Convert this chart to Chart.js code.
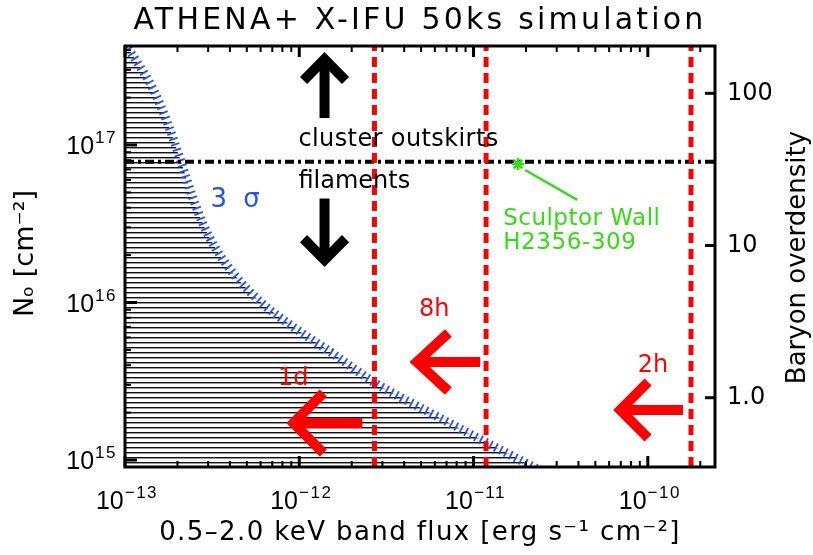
<!DOCTYPE html>
<html><head><meta charset="utf-8">
<script src="https://cdn.jsdelivr.net/npm/chart.js@4.4.1/dist/chart.umd.min.js"></script>
<style>html,body{margin:0;padding:0;background:#fff;}canvas{display:block}</style>
</head><body>
<canvas id="chart" width="813" height="555"></canvas>
<script>
// ---------------- data ----------------
const fluxLimit = [1.00e-13, 1.18e-13, 1.44e-13, 1.77e-13, 2.08e-13, 2.44e-13, 2.82e-13, 3.30e-13,
                   4.31e-13, 5.98e-13, 8.89e-13, 1.51e-12, 2.73e-12, 5.65e-12, 1.17e-11, 2.38e-11];
const columnLimit = [4.38e17, 3.32e17, 2.30e17, 1.34e17, 8.03e16, 4.68e16, 3.10e16, 2.22e16,
                     1.47e16, 1.01e16, 7.20e15, 4.85e15, 3.08e15, 1.99e15, 1.30e15, 8.65e14];
const exposureFlux = [2.70e-12, 1.18e-11, 1.77e-10];
const exposureNames = ['1d', '8h', '2h'];
const boundaryColumn = 7.84e16;
const sculptorFlux = [1.80e-11];
const sculptorColumn = [7.57e16];
const fluxRange = [1e-13, 2.43e-10];
const columnRange = [9.03e14, 4.25e17];
const overdensityRange = [0.3505, 204.6];
const fluxTicks = [1e-13, 1e-12, 1e-11, 1e-10];
const fluxTickExponents = ['−13', '−12', '−11', '−10'];
const columnTicks = [1e15, 1e16, 1e17];
const columnTickExponents = ['15', '16', '17'];
const overdensityTicks = [1, 10, 100];
const overdensityTickLabels = ['1.0', '10', '100'];

// ---------------- annotation placement (log10 data units) ----------------
const RED = '#ff0000', BLUE = '#2050ff', GREEN = '#33dd11';
const arrowsCfg = [
  {from: [-11.855, 17.171], to: [-11.855, 17.600], color: '#000', head: 30, spread: 21},
  {from: [-11.855, 16.660], to: [-11.855, 16.215], color: '#000', head: 30, spread: 21},
  {from: [-10.962, 15.622], to: [-11.374, 15.622], color: RED, head: 40, spread: 29},
  {from: [-11.638, 15.235], to: [-12.080, 15.235], color: RED, head: 38, spread: 30},
  {from: [-9.798, 15.317], to: [-10.205, 15.317], color: RED, head: 36, spread: 28}
];
const labelsCfg = [
  {text: 'cluster outskirts', at: [-12.005, 17.032], color: '#000', size: 24, spacing: 0.4},
  {text: 'filaments', at: [-12.005, 16.765], color: '#000', size: 24},
  {text: '3 σ', at: [-12.510, 16.651], color: BLUE, size: 26, spacing: 4},
  {text: 'Sculptor Wall', at: [-10.830, 16.530], color: GREEN, size: 23, spacing: 0.5},
  {text: 'H2356-309', at: [-10.830, 16.378], color: GREEN, size: 23, spacing: 0.6},
  {text: exposureNames[1], at: [-11.225, 15.952], color: RED, size: 24, align: 'center'},
  {text: exposureNames[0], at: [-12.034, 15.514], color: RED, size: 24, align: 'center'},
  {text: exposureNames[2], at: [-9.970, 15.597], color: RED, size: 24, align: 'center'}
];
const leaderCfg = {from: [-10.704, 16.841], to: [-10.405, 16.651]};

const FONT = '"DejaVu Sans", "Liberation Sans", sans-serif';
const TICKFONT = '"Liberation Sans", "DejaVu Sans", sans-serif';
const P = (e) => Math.pow(10, e);

// hatch pattern for the excluded region
function makeHatch() {
  const c = document.createElement('canvas');
  c.width = 4; c.height = 5;
  const g = c.getContext('2d');
  g.fillStyle = '#111'; g.fillRect(0, 2, 4, 1);
  g.fillStyle = '#9a9a9a'; g.fillRect(0, 3, 4, 1);
  return document.getElementById('chart').getContext('2d').createPattern(c, 'repeat');
}

function txt(ctx, s, x, y, o) {
  ctx.save();
  ctx.font = (o.weight || 'normal') + ' ' + o.size + 'px ' + (o.family || FONT);
  ctx.fillStyle = o.color || '#000';
  ctx.textAlign = o.align || 'left';
  ctx.textBaseline = o.baseline || 'middle';
  if ('letterSpacing' in ctx) ctx.letterSpacing = (o.spacing || 0) + 'px';
  ctx.translate(x, y);
  if (o.rotate) ctx.rotate(o.rotate);
  ctx.fillText(s, 0, 0);
  ctx.restore();
}

// power-of-ten tick label: "10" with a raised exponent
function powLabel(ctx, exp, x, baseY, align) {
  ctx.save();
  if ('letterSpacing' in ctx) ctx.letterSpacing = '0px';
  ctx.font = '25px ' + TICKFONT;
  const wb = ctx.measureText('10').width;
  ctx.font = '17px ' + TICKFONT;
  if ('letterSpacing' in ctx) ctx.letterSpacing = '1.5px';
  const we = ctx.measureText(exp).width;
  const total = wb + 1 + we;
  let x0 = align === 'right' ? x - total : x - total / 2;
  ctx.fillStyle = '#000'; ctx.textAlign = 'left'; ctx.textBaseline = 'alphabetic';
  if ('letterSpacing' in ctx) ctx.letterSpacing = '0px';
  ctx.font = '25px ' + TICKFONT;
  ctx.fillText('10', x0, baseY);
  if ('letterSpacing' in ctx) ctx.letterSpacing = '1.5px';
  ctx.font = '17px ' + TICKFONT;
  ctx.fillText(exp, x0 + wb + 1, baseY - 11);
  ctx.restore();
}

function arrow(ctx, x0, y0, x1, y1, head, spread, color, lw) {
  const ang = Math.atan2(y1 - y0, x1 - x0);
  const c = Math.cos(ang), s = Math.sin(ang);
  const half = Math.atan2(spread, head);
  const inset = (lw / 2) / Math.sin(half);
  const tx = x1 - c * inset, ty = y1 - s * inset;
  ctx.save();
  ctx.strokeStyle = color; ctx.lineWidth = lw; ctx.lineCap = 'butt'; ctx.lineJoin = 'miter'; ctx.miterLimit = 10;
  ctx.beginPath(); ctx.moveTo(x0, y0); ctx.lineTo(tx - c * 2, ty - s * 2); ctx.stroke();
  const bx = tx - c * (head - inset), by = ty - s * (head - inset);
  const px = -s * spread, py = c * spread;
  ctx.beginPath(); ctx.moveTo(bx + px, by + py); ctx.lineTo(tx, ty); ctx.lineTo(bx - px, by - py); ctx.stroke();
  ctx.restore();
}

const decorPlugin = {
  id: 'decor',
  afterDraw(chart) {
    const ctx = chart.ctx, a = chart.chartArea;
    const sx = chart.scales.x, sy = chart.scales.y, sy2 = chart.scales.y2;
    const X = (e) => sx.getPixelForValue(P(e)), Y = (e) => sy.getPixelForValue(P(e));
    ctx.save();
    // tick marks (inside)
    ctx.strokeStyle = '#000';
    const seg = (x0, y0, x1, y1, w) => { ctx.lineWidth = w; ctx.beginPath(); ctx.moveTo(x0, y0); ctx.lineTo(x1, y1); ctx.stroke(); };
    for (let e = -14; e <= -9; e++) for (let m = 1; m <= 9; m++) {
      const v = m * P(e);
      if (v < fluxRange[0] * 0.999 || v > fluxRange[1]) continue;
      const px = sx.getPixelForValue(v), major = m === 1;
      seg(px, a.bottom, px, a.bottom - (major ? 11 : 6), major ? 3 : 2);
      seg(px, a.top, px, a.top + (major ? 11 : 6), major ? 3 : 2);
    }
    for (let e = 14; e <= 17; e++) for (let m = 1; m <= 9; m++) {
      const v = m * P(e);
      if (v < columnRange[0] || v > columnRange[1]) continue;
      const py = sy.getPixelForValue(v), major = m === 1;
      seg(a.left, py, a.left + (major ? 12 : 6), py, major ? 3 : 2);
    }
    overdensityTicks.forEach(v => { const py = sy2.getPixelForValue(v); seg(a.right, py, a.right - 10, py, 3); });
    // frame
    ctx.lineWidth = 3; ctx.strokeStyle = '#000';
    ctx.strokeRect(a.left, a.top, a.right - a.left, a.bottom - a.top);

    // power-of-ten tick labels, placed by the scales
    sx.ticks.forEach(t => {
      const i = fluxTicks.indexOf(t.value);
      if (i >= 0) powLabel(ctx, fluxTickExponents[i], sx.getPixelForValue(t.value) + 2, a.bottom + 42, 'center');
    });
    sy.ticks.forEach(t => {
      const i = columnTicks.indexOf(t.value);
      if (i >= 0) powLabel(ctx, columnTickExponents[i], a.left - 8, sy.getPixelForValue(t.value) + 9, 'right');
    });

    // arrows
    arrowsCfg.forEach(o => arrow(ctx, X(o.from[0]), Y(o.from[1]), X(o.to[0]), Y(o.to[1]), o.head, o.spread, o.color, 10));
    // leader line to Sculptor Wall
    ctx.strokeStyle = GREEN; ctx.lineWidth = 2.5;
    ctx.beginPath(); ctx.moveTo(X(leaderCfg.from[0]), Y(leaderCfg.from[1])); ctx.lineTo(X(leaderCfg.to[0]), Y(leaderCfg.to[1])); ctx.stroke();
    // in-plot labels
    labelsCfg.forEach(o => txt(ctx, o.text, X(o.at[0]), Y(o.at[1]), o));

    // titles
    const cx = (a.left + a.right) / 2;
    txt(ctx, 'ATHENA+ X-IFU 50ks simulation', cx, a.top - 17, {size: 30, baseline: 'alphabetic', align: 'center', spacing: 3.2});
    txt(ctx, '0.5–2.0 keV band flux [erg s⁻¹ cm⁻²]', cx, a.bottom + 66, {size: 26, align: 'center', spacing: 1.4});
    txt(ctx, 'Nₒ [cm⁻²]', 26, (a.top + a.bottom) / 2 - 3, {size: 27, align: 'center', rotate: -Math.PI / 2});
    txt(ctx, 'Baryon overdensity', 798, (a.top + a.bottom) / 2 + 1, {size: 26, align: 'center', rotate: -Math.PI / 2});
    ctx.restore();
  }
};

const hatch = makeHatch();
const xy = (xs, ys) => xs.map((x, i) => ({x: x, y: ys[i]}));

const datasets = [
  {label: 'Sculptor Wall', data: xy(sculptorFlux, sculptorColumn), showLine: false,
   pointStyle: 'star', pointRadius: 6, borderColor: GREEN, borderWidth: 2.5, backgroundColor: GREEN}
];
exposureFlux.forEach((f, i) => datasets.push({
  label: exposureNames[i], data: xy([f, f], columnRange), showLine: true, pointRadius: 0,
  borderColor: RED, borderWidth: 5, borderDash: [10, 6], fill: false
}));
datasets.push({
  label: 'boundary', data: xy(fluxRange, [boundaryColumn, boundaryColumn]), showLine: true, pointRadius: 0,
  borderColor: '#000', borderWidth: 4, borderDash: [9, 4, 3, 4], fill: false
});
datasets.push({
  label: '3 sigma', data: xy(fluxLimit, columnLimit), showLine: true, pointRadius: 0,
  borderColor: BLUE, borderWidth: 9, borderDash: [1.8, 3.8], cubicInterpolationMode: 'monotone',
  fill: 'start', backgroundColor: hatch
});

const pick = (ticks, labels) => (v) => { const i = ticks.indexOf(v); return i >= 0 ? labels[i] : ''; };

new Chart(document.getElementById('chart'), {
  type: 'scatter',
  data: {datasets: datasets},
  plugins: [decorPlugin],
  options: {
    responsive: false, animation: false, devicePixelRatio: 1,
    layout: {padding: {top: 46, left: 0, right: 0, bottom: 0}},
    plugins: {legend: {display: false}, tooltip: {enabled: false}, title: {display: false}},
    scales: {
      x: {
        type: 'logarithmic', position: 'bottom', min: fluxRange[0], max: fluxRange[1], bounds: 'data',
        grid: {display: false, drawTicks: false}, border: {display: false},
        afterBuildTicks: (s) => { s.ticks = fluxTicks.map(v => ({value: v})); },
        afterFit: (s) => { s.height = 88; },
        ticks: {display: false, autoSkip: false}
      },
      y: {
        type: 'logarithmic', position: 'left', min: columnRange[0], max: columnRange[1], bounds: 'data',
        grid: {display: false, drawTicks: false}, border: {display: false},
        afterBuildTicks: (s) => { s.ticks = columnTicks.map(v => ({value: v})); },
        afterFit: (s) => { s.width = 125; },
        ticks: {display: false, autoSkip: false}
      },
      y2: {
        type: 'logarithmic', position: 'right', display: true, min: overdensityRange[0], max: overdensityRange[1], bounds: 'data',
        grid: {display: false, drawTicks: false}, border: {display: false},
        afterBuildTicks: (s) => { s.ticks = overdensityTicks.map(v => ({value: v})); },
        afterFit: (s) => { s.width = 98; },
        ticks: {autoSkip: false, padding: 12, color: '#000',
                font: {family: FONT, size: 24}, callback: pick(overdensityTicks, overdensityTickLabels)}
      }
    }
  }
});
</script>
</body></html>
